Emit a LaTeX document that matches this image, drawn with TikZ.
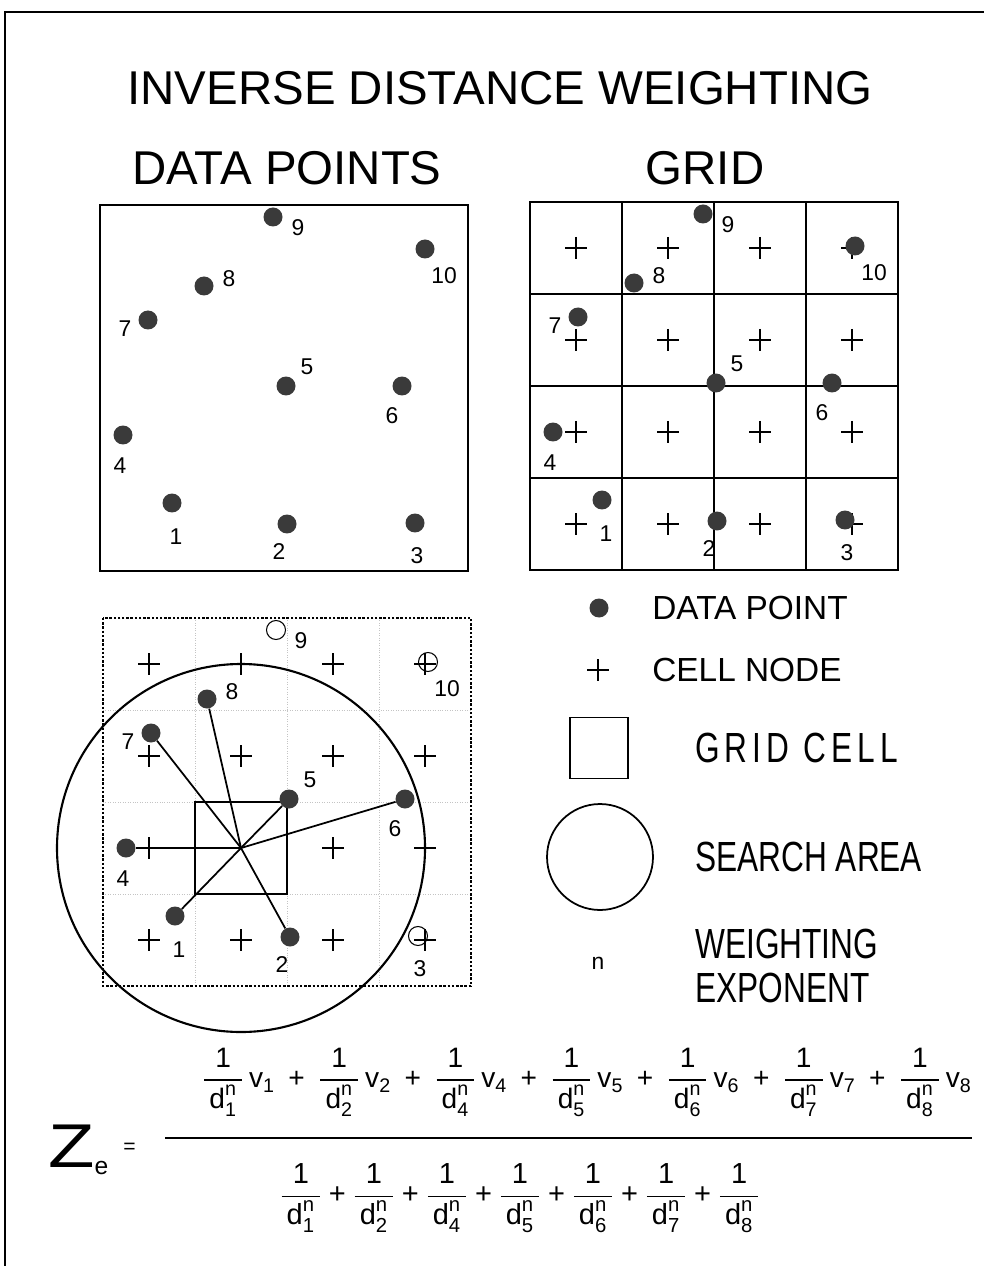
\documentclass[tikz,border=0pt]{standalone}
\usepackage{fontspec}
\setmainfont{Liberation Sans}
\newfontfamily\narrowfont[FakeStretch=0.75]{Liberation Sans}
\usepackage{amsmath}
\usepackage{graphicx}
\usetikzlibrary{positioning, calc}

\definecolor{idwdot}{HTML}{3A3A3A}
\definecolor{idwfaint}{HTML}{C4C4C4}

% point id / x / y / label dx / label dy (pixels from the panel corner)
\newcommand\idwpoints{1/72/298/4/34, 2/187/319/-8/28, 3/315/318/2/33,
  4/23/230/-3/31, 5/186/181/21/-19, 6/302/181/-10/30, 7/48/115/-23/9,
  8/104/81/25/-7, 9/173/12/25/11, 10/325/44/19/27}
\newcommand\wt[1]{\dfrac{\text{1}}{\,\text{d}^{\text{n}}_{\text{#1}}\,}}
\newcommand\pl{\mathbin{\:\text{+}\:}}

\tikzset{
  dpt/.style={circle, fill=idwdot, inner sep=0pt, minimum size=0.38cm},
  opt/.style={circle, draw, line width=0.6pt, inner sep=0pt, minimum size=0.38cm},
  lbl/.style={font=\fontsize{13}{15}\selectfont, inner sep=0pt},
  bigtxt/.style={font=\fontsize{27}{32}\selectfont, inner sep=0pt},
  legtxt/.style={font=\fontsize{19}{22}\selectfont, inner sep=0pt, anchor=west},
  legbig/.style={font=\narrowfont\fontsize{24}{25.5}\selectfont, inner sep=0pt, anchor=west, align=left},
  boxline/.style={line width=1.2pt},
  spoke/.style={line width=1pt},
  cellnode/.pic={\draw[line width=0.7pt] (-11,0) -- (11,0) (0,-11) -- (0,11);}
}

\begin{document}
\begin{tikzpicture}[x=0.02cm, y=-0.02cm]
  \useasboundingbox (0,0) rectangle (984,1266);
  \draw[line width=1.5pt] (5,1266) -- (5,12) -- (984,12);

  \node[bigtxt] (title) at (500,88) {INVERSE DISTANCE WEIGHTING};
  \node[bigtxt] (ptshead) at (287,168) {DATA POINTS};
  \node[bigtxt] (gridhead) at (705,168) {GRID};

  % data points
  \begin{scope}[shift={(100,205)}]
    \draw[boxline] (0,0) rectangle (368,366);
    \foreach \i/\x/\y/\dx/\dy in \idwpoints {
      \node[dpt] (a\i) at (\x,\y) {};
      \node[lbl] (la\i) at (\x+\dx,\y+\dy) {\i};
    }
  \end{scope}

  % grid
  \begin{scope}[shift={(530,202)}]
    \draw[boxline] (0,0) rectangle (368,368);
    \foreach \k in {92,184,276}
      \draw[boxline] (\k,0) -- (\k,368) (0,\k) -- (368,\k);
    \foreach \cx in {46,138,230,322}
      \foreach \cy in {46,138,230,322}
        \pic at (\cx,\cy) {cellnode};
    \foreach \i/\x/\y/\dx/\dy in \idwpoints {
      \node[dpt] (b\i) at (\x,\y) {};
      \node[lbl] (lb\i) at (\x+\dx,\y+\dy) {\i};
    }
  \end{scope}

  % search area around one cell node
  \begin{scope}[shift={(103,618)}]
    \foreach \k in {92,184,276}
      \draw[idwfaint, densely dotted] (\k,0) -- (\k,368) (0,\k) -- (368,\k);
    \draw[line width=1.4pt, densely dotted] (0,0) rectangle (368,368);
    \foreach \cx in {46,138,230,322}
      \foreach \cy in {46,138,322}
        \pic at (\cx,\cy) {cellnode};
    \foreach \cx in {46,230,322}
      \pic at (\cx,230) {cellnode};
    \coordinate (ctr) at (138,230);
    \draw[line width=1.1pt] (92,184) rectangle (184,276);
    \draw[line width=1.2pt] (ctr) circle[radius=184];
    \foreach \i/\x/\y/\dx/\dy in \idwpoints {
      \node[lbl] (lc\i) at (\x+\dx,\y+\dy) {\i};
    }
    \foreach \i/\x/\y in {1/72/298, 2/187/319, 4/23/230, 5/186/181,
                          6/302/181, 7/48/115, 8/104/81}
      \node[dpt] (c\i) at (\x,\y) {};
    \foreach \i/\x/\y in {3/315/318, 9/173/12, 10/325/44}
      \node[opt] (c\i) at (\x,\y) {};
    \foreach \i in {1,2,4,5,6,7,8}
      \draw[spoke] (ctr) -- (c\i);
  \end{scope}

  % legend
  \node[dpt] (lgdot) at (599,608) {};
  \node[legtxt] (lgdottxt) at (652,608) {DATA POINT};
  \pic at (598,670) {cellnode};
  \node[legtxt] (lgnodetxt) at (652,670) {CELL NODE};
  \node[draw, line width=1.1pt, minimum width=1.16cm, minimum height=1.22cm] (lgcell) at (599,748) {};
  \node[legbig, font=\narrowfont\fontsize{24}{25.5}\selectfont\addfontfeature{LetterSpace=12}] (lgcelltxt) at (695,748) {GRID CELL};
  \node[draw, circle, line width=1pt, minimum size=2.12cm] (lgarea) at (600,857) {};
  \node[legbig] (lgareatxt) at (695,857) {SEARCH AREA};
  \node[lbl] (lgn) at (598,963) {n};
  \node[legbig] (lgntxt) at (695,966) {WEIGHTING\\EXPONENT};

  % estimate
  \node[font=\fontsize{32}{36}\selectfont, inner sep=0pt, anchor=west] (ze) at (48,1150)
    {\scalebox{1.35}[1.1]{Z}\textsubscript{\fontsize{14}{16}\selectfont e}\kern8pt\raisebox{8pt}{\fontsize{12}{14}\selectfont =}};
  \node[font=\fontsize{16}{18}\selectfont, inner sep=0pt] (numer) at (587,1082)
    {$\wt{1}\,\text{v}_{\text{1}}\pl\wt{2}\,\text{v}_{\text{2}}\pl\wt{4}\,\text{v}_{\text{4}}\pl\wt{5}\,\text{v}_{\text{5}}\pl\wt{6}\,\text{v}_{\text{6}}\pl\wt{7}\,\text{v}_{\text{7}}\pl\wt{8}\,\text{v}_{\text{8}}$};
  \node[font=\fontsize{16.5}{18}\selectfont, inner sep=0pt] (denom) at (520,1198)
    {$\wt{1}\mathbin{\text{+}}\wt{2}\mathbin{\text{+}}\wt{4}\mathbin{\text{+}}\wt{5}\mathbin{\text{+}}\wt{6}\mathbin{\text{+}}\wt{7}\mathbin{\text{+}}\wt{8}$};
  \draw[line width=1pt] (165,1138) -- (972,1138);
\end{tikzpicture}
\end{document}
